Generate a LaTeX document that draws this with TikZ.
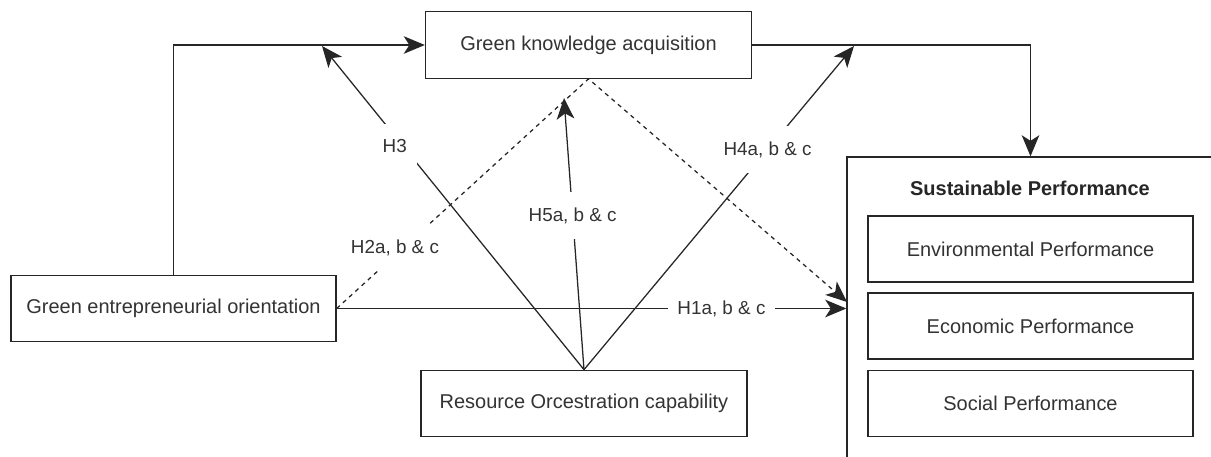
\documentclass[tikz,border=0pt]{standalone}
\usepackage{fontspec}
\setmainfont{Liberation Sans}
\usetikzlibrary{arrows.meta}

\begin{document}
\begin{tikzpicture}[
    x=0.025cm, y=-0.025cm,
    construct/.style={draw=black!85, line width=0.9pt, fill=white,
                      minimum width=8.15cm, minimum height=1.66cm,
                      font=\fontsize{14.2}{17}\selectfont, text=black!80, inner sep=0pt},
    outcome/.style={draw=black!85, line width=0.9pt,
                    minimum width=9.175cm, minimum height=7.525cm, inner sep=0pt},
    dimension/.style={construct, minimum width=8.125cm, minimum height=1.65cm},
    link/.style={-{Stealth[length=15pt, width=12.5pt, inset=4pt]}, line width=0.9pt, draw=black!85},
    trail/.style={link, dash pattern=on 3pt off 3pt},
    hyp/.style={fill=white, inner xsep=7pt, inner ysep=11pt,
                font=\fontsize{13.4}{16}\selectfont, text=black!80},
  ]
    \clip (0,0) rectangle (1211,456);
    % outcome block with its three dimensions
    \node[outcome] (sp) at (1030.5,307.5) {};
    \node[font=\fontsize{14.2}{17}\selectfont\bfseries, text=black!85] (sptitle) at (1030,188) {Sustainable Performance};
    \node[dimension] (env) at (1030.5,249) {Environmental Performance};
    \node[dimension] (eco) at (1030.5,326) {Economic Performance};
    \node[dimension] (soc) at (1030.5,403.5) {Social Performance};

    % the three constructs
    \node[construct] (gka) at (588.5,45) {Green knowledge acquisition};
    \node[construct, minimum width=8.125cm] (geo) at (173.5,308.5) {Green entrepreneurial orientation};
    \node[construct] (roc) at (584,403.5) {Resource Orcestration capability};

    % free ends of the moderation arrows
    \coordinate (h3tip) at (322,46);
    \coordinate (h4tip) at (854,46);
    \coordinate (h5tip) at (564,98);
    \coordinate (viaend) at (847,302);

    % direct paths
    \draw[link] (geo.north) |- (gka.west);
    \draw[link] (gka.east) -| (sp.north);
    \draw[link] (geo.east) -- node[hyp, pos=0.755] {H1a, b \& c} (geo.east -| sp.west);
    \draw[trail] (geo.east) -- node[hyp, pos=0.265, xshift=-6pt] {H2a, b \& c} (gka.south) -- (viaend);

    % moderation
    \draw[link] (roc.north) -- node[hyp, pos=0.69, xshift=-6pt] {H3} (h3tip);
    \draw[link] (roc.north) -- node[hyp, pos=0.68] {H4a, b \& c} (h4tip);
    \draw[link] (roc.north) -- node[hyp, pos=0.567] {H5a, b \& c} (h5tip);
\end{tikzpicture}
\end{document}
